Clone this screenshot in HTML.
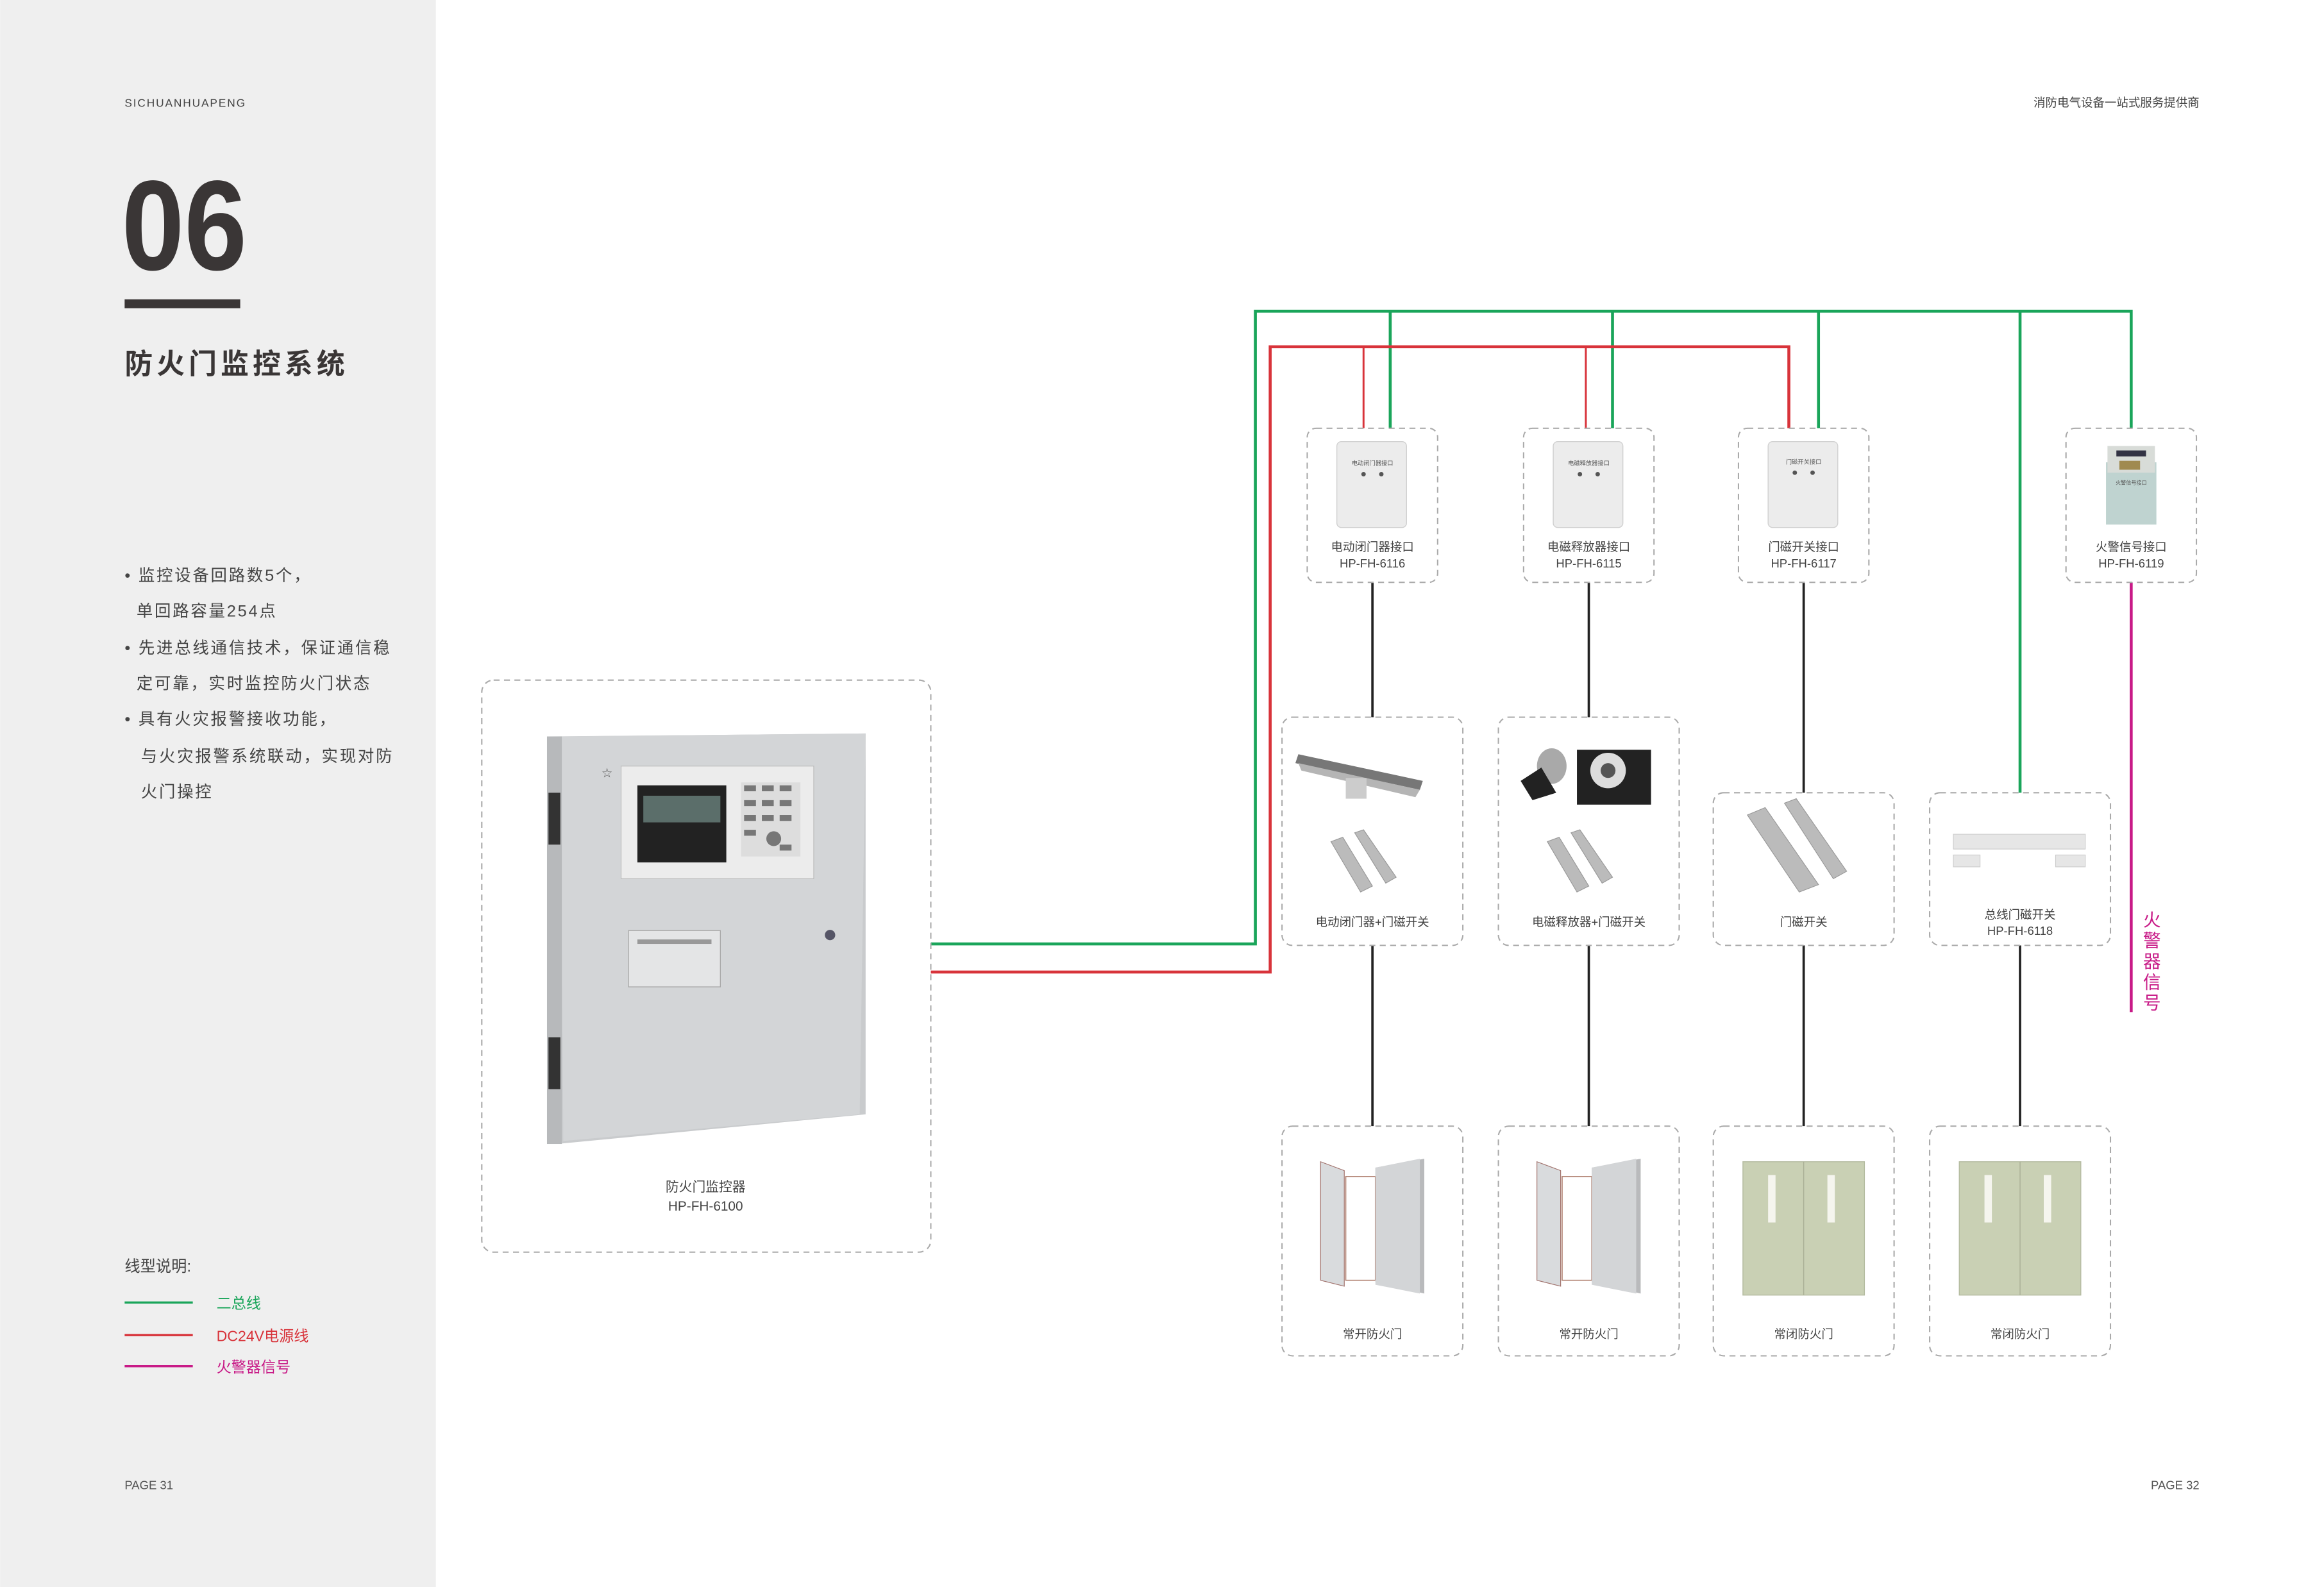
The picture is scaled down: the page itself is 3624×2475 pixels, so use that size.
<!DOCTYPE html>
<html><head><meta charset="utf-8"><style>
html,body{margin:0;padding:0;background:#fff;}
svg{display:block;}
text{font-family:"Liberation Sans","Noto Sans CJK SC",sans-serif;}
</style></head><body>
<svg width="3624" height="2475" viewBox="0 0 1568 1071" xmlns="http://www.w3.org/2000/svg">
<rect width="1568" height="1071" fill="#fff"/>
<rect width="294" height="1071" fill="#efefef"/>
<!-- left panel -->
<text x="84" y="72" font-size="7.5" fill="#444" letter-spacing="0.8">SICHUANHUAPENG</text>
<text x="82" y="182" font-size="80" font-weight="bold" fill="#3a3636" transform="translate(82 182) scale(0.95 1.08) translate(-82 -182)">06</text>
<rect x="84" y="202" width="78" height="6" fill="#3a3636"/>
<text x="84" y="252" font-size="19" font-weight="bold" fill="#3a3636" letter-spacing="2.6">防火门监控系统</text>
<g font-size="11" fill="#444" letter-spacing="1.2">
<text x="84" y="392">•  监控设备回路数5个，</text>
<text x="92" y="416">单回路容量254点</text>
<text x="84" y="441">•  先进总线通信技术，保证通信稳</text>
<text x="92" y="465">定可靠，实时监控防火门状态</text>
<text x="84" y="489">•  具有火灾报警接收功能，</text>
<text x="95" y="514">与火灾报警系统联动，实现对防</text>
<text x="95" y="538">火门操控</text>
</g>
<text x="84" y="858" font-size="10.5" fill="#444">线型说明:</text>
<line x1="84" y1="879" x2="130" y2="879" stroke="#1aa55a" stroke-width="1.5"/>
<text x="146" y="883" font-size="10" fill="#1aa55a">二总线</text>
<line x1="84" y1="901" x2="130" y2="901" stroke="#d8333a" stroke-width="1.5"/>
<text x="146" y="905" font-size="10" fill="#d8333a">DC24V电源线</text>
<line x1="84" y1="922" x2="130" y2="922" stroke="#c81a87" stroke-width="1.5"/>
<text x="146" y="926" font-size="10" fill="#c81a87">火警器信号</text>
<text x="84" y="1005" font-size="8" fill="#555">PAGE 31</text>
<text x="1484" y="1005" font-size="8" fill="#555" text-anchor="end">PAGE 32</text>
<text x="1484" y="72" font-size="8" fill="#444" text-anchor="end">消防电气设备一站式服务提供商</text>

<!-- wires -->
<g fill="none" stroke-width="2">
<polyline points="628,637 847,637 847,210 1438,210 1438,290" stroke="#1aa55a"/>
<line x1="938" y1="210" x2="938" y2="290" stroke="#1aa55a"/>
<line x1="1088" y1="210" x2="1088" y2="290" stroke="#1aa55a"/>
<line x1="1227" y1="210" x2="1227" y2="290" stroke="#1aa55a"/>
<line x1="1363" y1="210" x2="1363" y2="535" stroke="#1aa55a"/>
<polyline points="628,656 857,656 857,234 1207,234 1207,290" stroke="#d8333a"/>
<line x1="920" y1="234" x2="920" y2="290" stroke="#d8333a" stroke-width="1.3"/>
<line x1="1070" y1="234" x2="1070" y2="290" stroke="#d8333a" stroke-width="1.3"/>
<line x1="1438" y1="393" x2="1438" y2="683" stroke="#c81a87"/>
<g stroke="#222" stroke-width="1.6">
<line x1="926" y1="393" x2="926" y2="484"/><line x1="926" y1="638" x2="926" y2="760"/>
<line x1="1072" y1="393" x2="1072" y2="484"/><line x1="1072" y1="638" x2="1072" y2="760"/>
<line x1="1217" y1="393" x2="1217" y2="535"/><line x1="1217" y1="638" x2="1217" y2="760"/>
<line x1="1363" y1="638" x2="1363" y2="760"/>
</g>
</g>
<g font-size="12" fill="#c81a87" text-anchor="middle">
<text x="1452" y="625">火</text><text x="1452" y="639">警</text><text x="1452" y="653">器</text><text x="1452" y="667">信</text><text x="1452" y="681">号</text>
</g>

<!-- dashed boxes -->
<g fill="#fff" stroke="#aaa" stroke-width="0.9" stroke-dasharray="4 3">
<rect x="325" y="459" width="303" height="386" rx="8"/>
<rect x="882" y="289" width="88" height="104" rx="6"/>
<rect x="1028" y="289" width="88" height="104" rx="6"/>
<rect x="1173" y="289" width="88" height="104" rx="6"/>
<rect x="1394" y="289" width="88" height="104" rx="6"/>
<rect x="865" y="484" width="122" height="154" rx="7"/>
<rect x="1011" y="484" width="122" height="154" rx="7"/>
<rect x="1156" y="535" width="122" height="103" rx="7"/>
<rect x="1302" y="535" width="122" height="103" rx="7"/>
<rect x="865" y="760" width="122" height="155" rx="7"/>
<rect x="1011" y="760" width="122" height="155" rx="7"/>
<rect x="1156" y="760" width="122" height="155" rx="7"/>
<rect x="1302" y="760" width="122" height="155" rx="7"/>
</g>

<!-- controller cabinet -->
<polygon points="370,497 584,495 584,752 376,772" fill="#c9cbcd"/>
<polygon points="378,497 584,495 580,752 380,770" fill="#d3d5d7"/>
<rect x="369" y="497" width="10" height="275" fill="#b7b9bb"/>
<rect x="370" y="535" width="8" height="35" fill="#333"/>
<rect x="370" y="700" width="8" height="35" fill="#333"/>
<rect x="419" y="517" width="130" height="76" fill="#ececec" stroke="#bbb" stroke-width="0.5"/>
<rect x="430" y="530" width="60" height="52" fill="#222"/>
<rect x="434" y="537" width="52" height="18" fill="#5b6e6a"/>
<rect x="500" y="528" width="40" height="50" fill="#ddd"/>
<g fill="#777">
<rect x="502" y="530" width="8" height="4"/><rect x="514" y="530" width="8" height="4"/><rect x="526" y="530" width="8" height="4"/>
<rect x="502" y="540" width="8" height="4"/><rect x="514" y="540" width="8" height="4"/><rect x="526" y="540" width="8" height="4"/>
<rect x="502" y="550" width="8" height="4"/><rect x="514" y="550" width="8" height="4"/><rect x="526" y="550" width="8" height="4"/>
<rect x="502" y="560" width="8" height="4"/><circle cx="522" cy="566" r="5"/><rect x="526" y="570" width="8" height="4"/>
</g>
<rect x="424" y="628" width="62" height="38" fill="#e4e5e6" stroke="#aaa" stroke-width="0.6"/>
<rect x="430" y="634" width="50" height="3" fill="#999"/>
<circle cx="560" cy="631" r="3.5" fill="#556"/>
<text x="406" y="524" font-size="7" fill="#666">☆</text>
<text x="476" y="804" font-size="9" fill="#444" text-anchor="middle">防火门监控器</text>
<text x="476" y="817" font-size="9" fill="#444" text-anchor="middle">HP-FH-6100</text>

<!-- interface modules -->
<g>
<rect x="902" y="298" width="47" height="58" rx="3" fill="#ececec" stroke="#d0d0d0" stroke-width="0.6"/>
<rect x="1048" y="298" width="47" height="58" rx="3" fill="#ececec" stroke="#d0d0d0" stroke-width="0.6"/>
<rect x="1193" y="298" width="47" height="58" rx="3" fill="#ececec" stroke="#d0d0d0" stroke-width="0.6"/>
<g font-size="4" fill="#555" text-anchor="middle">
<text x="926" y="314">电动闭门器接口</text><text x="1072" y="314">电磁释放器接口</text><text x="1217" y="313">门磁开关接口</text></g>
<g fill="#555"><circle cx="920" cy="320" r="1.5"/><circle cx="932" cy="320" r="1.5"/><circle cx="1066" cy="320" r="1.5"/><circle cx="1078" cy="320" r="1.5"/><circle cx="1211" cy="319" r="1.5"/><circle cx="1223" cy="319" r="1.5"/></g>
<rect x="1421" y="312" width="34" height="42" fill="#bfd3d0"/>
<rect x="1422" y="301" width="32" height="18" fill="#d8dcd8"/>
<rect x="1428" y="304" width="20" height="4" fill="#334"/>
<rect x="1430" y="311" width="14" height="6" fill="#a08a50"/>
<text x="1438" y="327" font-size="3.5" fill="#555" text-anchor="middle">火警信号接口</text>
</g>
<g font-size="8" fill="#444" text-anchor="middle">
<text x="926" y="372">电动闭门器接口</text><text x="926" y="383">HP-FH-6116</text>
<text x="1072" y="372">电磁释放器接口</text><text x="1072" y="383">HP-FH-6115</text>
<text x="1217" y="372">门磁开关接口</text><text x="1217" y="383">HP-FH-6117</text>
<text x="1438" y="372">火警信号接口</text><text x="1438" y="383">HP-FH-6119</text>
</g>

<!-- middle devices -->
<polygon points="876,509 960,527 958,533 874,515" fill="#777"/>
<polygon points="876,515 958,533 955,538 878,520" fill="#b5b5b5"/>
<rect x="908" y="525" width="14" height="14" fill="#ccc"/>
<g fill="#bbb" stroke="#999" stroke-width="0.5">
<polygon points="898,568 906,565 926,598 918,602"/><polygon points="914,562 920,560 942,592 935,596"/>
<polygon points="1044,568 1052,565 1072,598 1064,602"/><polygon points="1060,562 1066,560 1088,592 1081,596"/>
<polygon points="1179,550 1191,545 1227,597 1214,602"/><polygon points="1204,542 1212,539 1246,588 1237,593"/>
</g>
<ellipse cx="1047" cy="517" rx="10" ry="12" fill="#a9a9a9"/>
<polygon points="1026,527 1040,518 1050,535 1034,540" fill="#222"/>
<rect x="1064" y="506" width="50" height="37" fill="#222"/>
<circle cx="1085" cy="520" r="12" fill="#ddd"/><circle cx="1085" cy="520" r="5" fill="#555"/>
<rect x="1318" y="563" width="89" height="10" fill="#e6e6e6" stroke="#ccc" stroke-width="0.5"/>
<rect x="1318" y="577" width="18" height="8" fill="#e6e6e6" stroke="#ccc" stroke-width="0.5"/>
<rect x="1387" y="577" width="20" height="8" fill="#e6e6e6" stroke="#ccc" stroke-width="0.5"/>
<g font-size="8" fill="#444" text-anchor="middle">
<text x="926" y="625">电动闭门器+门磁开关</text>
<text x="1072" y="625">电磁释放器+门磁开关</text>
<text x="1217" y="625">门磁开关</text>
<text x="1363" y="620">总线门磁开关</text><text x="1363" y="631">HP-FH-6118</text>
</g>

<!-- doors -->
<g>
<polygon points="928,788 961,782 961,873 928,865" fill="#b9babc"/>
<polygon points="891,784 907,790 907,868 891,864" fill="#d9dbdd" stroke="#a0706a" stroke-width="0.5"/>
<rect x="908" y="794" width="20" height="70" fill="#fff" stroke="#b08070" stroke-width="0.7"/>
<polygon points="928,788 958,782 958,873 928,867" fill="#d3d5d7"/>
<polygon points="1074,788 1107,782 1107,873 1074,865" fill="#b9babc"/>
<polygon points="1037,784 1053,790 1053,868 1037,864" fill="#d9dbdd" stroke="#a0706a" stroke-width="0.5"/>
<rect x="1054" y="794" width="20" height="70" fill="#fff" stroke="#b08070" stroke-width="0.7"/>
<polygon points="1074,788 1104,782 1104,873 1074,867" fill="#d3d5d7"/>
<rect x="1176" y="784" width="82" height="90" fill="#c9d0b4" stroke="#b4bba0" stroke-width="0.6"/>
<line x1="1217" y1="784" x2="1217" y2="874" stroke="#a9af95" stroke-width="0.6"/>
<rect x="1193" y="793" width="5" height="32" fill="#f5f5ee"/><rect x="1233" y="793" width="5" height="32" fill="#f5f5ee"/>
<rect x="1322" y="784" width="82" height="90" fill="#c9d0b4" stroke="#b4bba0" stroke-width="0.6"/>
<line x1="1363" y1="784" x2="1363" y2="874" stroke="#a9af95" stroke-width="0.6"/>
<rect x="1339" y="793" width="5" height="32" fill="#f5f5ee"/><rect x="1379" y="793" width="5" height="32" fill="#f5f5ee"/>
</g>
<g font-size="8" fill="#444" text-anchor="middle">
<text x="926" y="903">常开防火门</text><text x="1072" y="903">常开防火门</text>
<text x="1217" y="903">常闭防火门</text><text x="1363" y="903">常闭防火门</text>
</g>
</svg>
</body></html>
